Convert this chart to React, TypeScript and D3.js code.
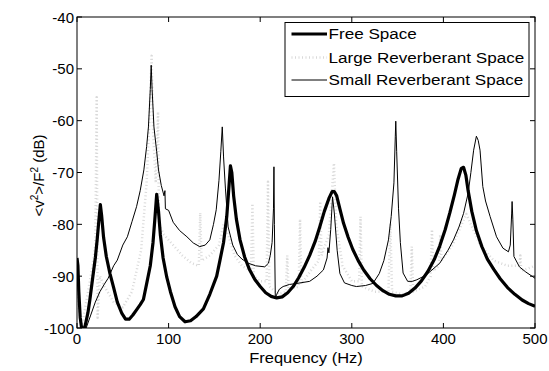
import React from "react";
import * as d3 from "d3";

// ---- data (frequency in Hz, response in dB) ----
const freeSpace: [number, number][] = [
  [0, -86.5], [1, -88], [2, -93], [3.5, -98], [5, -100], [7, -100.5], [9, -99.5], [12, -97], [14, -94.6],
  [17, -90.5], [20, -86.5], [22, -83], [24, -79], [25.5, -76.2], [27, -78.5], [29, -82.5], [32, -86.2],
  [36, -89.5], [40, -92.2], [44, -95], [49, -97.2], [53, -98.3], [57, -98.3], [61, -97.5], [65, -96.5],
  [69, -95.5], [72.5, -94.5], [76, -91.5], [80, -88], [83, -83.5], [85, -79], [87, -74.2], [89, -77.5],
  [91, -82], [94, -86.5], [98, -90.2], [102, -93], [107, -95.9], [112, -97.8], [118, -98.8], [124, -98.6],
  [130, -97.8], [138, -96.3], [145, -93.5], [152.5, -90], [156, -87], [160, -83.5], [163.5, -78.5],
  [166, -72.5], [167.5, -68.7], [169, -70], [171, -74.5], [174, -79], [178, -83], [183, -86.3], [188, -88.6],
  [194, -90.6], [200, -92], [206, -93.2], [212, -93.9], [218, -94.2], [224, -94], [230, -93.2], [236, -92],
  [242, -90.3], [248, -88.3], [254, -86], [260, -83.3], [265, -80.5], [270, -77.5], [275, -75], [278.5, -73.7],
  [281, -73.7], [283.5, -74.5], [287, -77], [291, -79.8], [296, -82.5], [301, -84.8], [307, -87], [313, -88.8],
  [320, -90.5], [327, -91.8], [334, -92.8], [341, -93.5], [348, -93.8], [355, -93.8], [362, -93.3],
  [369, -92.3], [376, -90.9], [383, -89.1], [390, -86.8], [396, -84.2], [402, -81], [407, -77.8], [412, -74.3],
  [416, -71.3], [419.5, -69.2], [422, -69], [424.5, -70.5], [427, -73.5], [431, -77.5], [436, -81.2],
  [442, -84.3], [448, -86.7], [455, -88.7], [462, -90.5], [470, -92.2], [478, -93.5], [486, -94.6],
  [493, -95.3], [500, -95.8],
];

const largeReverberant: [number, number][] = [
  [0, -88], [2, -96], [5, -100], [8, -97], [12, -93], [17, -88], [20, -84], [21.5, -55.5], [22.5, -98],
  [25, -90], [30, -92], [40, -95], [50, -96], [60, -93], [70, -85], [76, -72], [79, -60], [81.5, -47.5],
  [83, -62], [86, -72], [88.5, -58.3], [89.5, -80], [95, -82], [105, -84], [115, -86], [125, -87.5],
  [133, -88], [134.5, -77.8], [136, -87], [145, -86], [155, -84], [160, -80], [165, -82], [172, -86],
  [180, -88], [190, -89], [191.5, -76], [193, -90], [200, -91], [207, -91], [208.5, -71.8], [210, -92],
  [220, -93.5], [228, -93], [229.5, -86], [231, -92.5], [242, -92], [243.5, -79], [245, -91.5], [255, -89],
  [264, -87], [265.5, -75.6], [267, -86], [275, -82], [280.5, -68.2], [283, -80], [290, -88], [300, -91],
  [308, -91], [309.5, -78.5], [311, -92], [325, -93], [340, -93], [342, -79.8], [344, -93], [355, -93.5],
  [364, -93], [365.5, -84.3], [367, -93], [380, -92], [386, -90], [387.5, -81], [389, -89], [395, -88],
  [396.5, -82], [398, -87], [410, -84], [420, -80], [425, -78], [430, -80], [440, -84], [455, -87],
  [470, -88], [483, -88], [484, -86], [485, -89], [500, -88],
];

const smallReverberant: [number, number][] = [
  [8, -101], [10, -100], [15, -97.5], [20, -95], [25, -93], [30, -91.5], [34, -90.4], [40, -88], [44, -86.9],
  [50, -84], [55, -82.4], [60, -79.5], [65, -76.6], [69, -73.5], [73, -69.5], [76, -65], [78, -61.2],
  [80, -54], [81, -49.3], [82, -54], [84, -61.2], [87, -66], [89, -69.5], [92, -72.5], [95, -74.5],
  [96, -73.5], [96.5, -77], [100, -77.3], [105, -79.6], [112, -81.2], [120, -82.4], [127, -83.6],
  [134, -84.3], [140, -84], [145, -83], [149, -80], [152, -77.2], [155, -71.5], [157, -66], [158.6, -61.2],
  [160, -67], [162, -73], [165, -80.5], [170, -84], [175, -85.8], [180, -86.7], [187, -87.5], [195, -88],
  [205, -88.2], [209, -87.5], [211, -86], [213, -83.5], [214.5, -77], [215, -68.9], [215.5, -80],
  [216.5, -94.3], [218, -93.5], [221, -92.5], [225, -92], [232, -91.6], [240, -91.4], [254, -91],
  [262, -90], [269, -88.8], [273, -86.5], [274, -84.5], [275, -85.5], [277, -81], [279, -74.7], [281, -78],
  [284, -85], [287, -89.5], [292, -91.3], [300, -91.8], [305, -92], [315, -91.8], [323, -91.4],
  [330, -89.5], [335, -87], [340, -83], [343, -78.5], [346, -72], [347.5, -63], [348, -60.1], [349, -66],
  [351, -77], [353, -83.5], [356, -89.4], [361, -91], [366, -91], [371, -90.7], [381, -89.8], [396, -87.5],
  [405, -85], [411, -83], [417, -80.5], [422, -77.9], [427, -74], [430, -70], [433, -65.7], [436, -63],
  [438, -63.8], [440, -65.7], [443, -72.7], [446, -75.5], [451, -78.5], [458, -82.4], [465, -84.6],
  [471, -85.3], [473, -84], [474.5, -78], [475, -75.6], [475.8, -79], [477, -86.2], [483, -88.2],
  [490, -89.2], [500, -90.4],
];

const xTicks = [0, 100, 200, 300, 400, 500];
const yTicks = [-100, -90, -80, -70, -60, -50, -40];
const legendLabels = ["Free Space", "Large Reverberant Space", "Small Reverberant Space"];
const xLabel = "Frequency (Hz)";

const W = 549;
const H = 371;
const left = 77;
const right = 535;
const top = 17;
const bottom = 328;
const FONT = "'Liberation Sans', Arial, Helvetica, sans-serif";

export default function App() {
  const x = d3.scaleLinear().domain([0, 500]).range([left, right]);
  const y = d3.scaleLinear().domain([-100, -40]).range([bottom, top]);
  const line = d3
    .line<[number, number]>()
    .x((d) => x(d[0]))
    .y((d) => y(d[1]));

  const tick = 5;
  const legX = 285;
  const legY = 22.5;
  const legW = 244;
  const legH = 74;
  const rowY = [34, 57.5, 80];
  const styles = [
    { stroke: "#000", width: 3.2, dash: undefined as string | undefined },
    { stroke: "#d9d9d9", width: 2.5, dash: "1,2.5" },
    { stroke: "#000", width: 1, dash: undefined as string | undefined },
  ];

  return (
    <svg
      width={W}
      height={H}
      style={{ position: "absolute", left: 0, top: 0, background: "#fff" }}
      fontFamily={FONT}
    >
      <rect x={0} y={0} width={W} height={H} fill="#fff" />
      <defs>
        <clipPath id="plot">
          <rect x={left} y={top} width={right - left} height={bottom - top} />
        </clipPath>
      </defs>
      <g clipPath="url(#plot)" fill="none" strokeLinejoin="round">
        <path d={line(largeReverberant) || ""} stroke={styles[1].stroke} strokeWidth={styles[1].width} strokeDasharray={styles[1].dash} />
        <path d={line(smallReverberant) || ""} stroke="#000" strokeWidth={1} />
        <path d={line(freeSpace) || ""} stroke="#000" strokeWidth={styles[0].width} />
      </g>

      {/* axes box */}
      <rect x={left} y={top} width={right - left} height={bottom - top} fill="none" stroke="#000" strokeWidth={1} />
      {xTicks.map((t) => (
        <g key={"x" + t}>
          <line x1={x(t)} x2={x(t)} y1={bottom} y2={bottom - tick} stroke="#000" />
          <line x1={x(t)} x2={x(t)} y1={top} y2={top + tick} stroke="#000" />
          <text x={x(t)} y={344} textAnchor="middle" fontSize={15}>
            {t}
          </text>
        </g>
      ))}
      {yTicks.map((t) => (
        <g key={"y" + t}>
          <line x1={left} x2={left + tick} y1={y(t)} y2={y(t)} stroke="#000" />
          <line x1={right} x2={right - tick} y1={y(t)} y2={y(t)} stroke="#000" />
          <text x={left - 3} y={y(t) + 5.5} textAnchor="end" fontSize={15}>
            {t}
          </text>
        </g>
      ))}

      <text x={(left + right) / 2} y={363} textAnchor="middle" fontSize={15} transform={`translate(${(left + right) / 2},0) scale(1.1,1) translate(${-(left + right) / 2},0)`}>
        {xLabel}
      </text>
      <text transform={`translate(44,${(top + bottom) / 2 + 3}) rotate(-90)`} textAnchor="middle" fontSize={15}>
        {"<v"}
        <tspan dy={-6} fontSize={10}>2</tspan>
        <tspan dy={6}>{">/F"}</tspan>
        <tspan dy={-6} fontSize={10}>2</tspan>
        <tspan dy={6}>{" (dB)"}</tspan>
      </text>

      {/* legend */}
      <rect x={legX} y={legY} width={legW} height={legH} fill="#fff" stroke="#000" strokeWidth={1} />
      {legendLabels.map((lab, i) => (
        <g key={lab}>
          <line
            x1={291.5}
            x2={327}
            y1={rowY[i]}
            y2={rowY[i]}
            stroke={styles[i].stroke}
            strokeWidth={styles[i].width}
            strokeDasharray={styles[i].dash}
          />
          <text
            x={0}
            y={rowY[i] + 5.5}
            fontSize={15}
            transform={`translate(328.5,0) scale(1.14,1)`}
          >
            {lab}
          </text>
        </g>
      ))}
    </svg>
  );
}
